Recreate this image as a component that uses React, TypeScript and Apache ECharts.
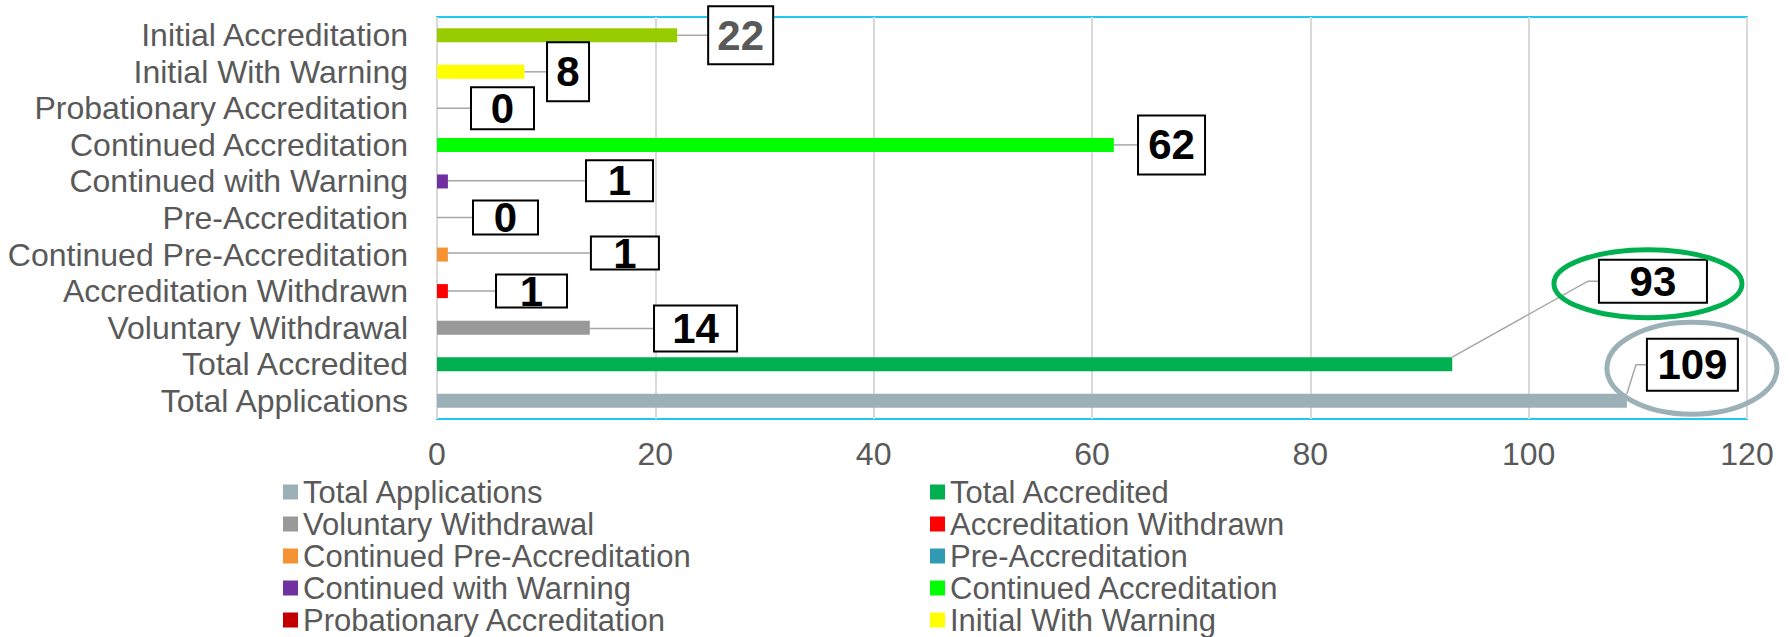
import React, { useEffect, useRef } from "react";
import * as echarts from "echarts";

// ---- data (bottom to top on the category axis) ----
const categories = [
  "Total Applications",
  "Total Accredited",
  "Voluntary Withdrawal",
  "Accreditation Withdrawn",
  "Continued Pre-Accreditation",
  "Pre-Accreditation",
  "Continued with Warning",
  "Continued Accreditation",
  "Probationary Accreditation",
  "Initial With Warning",
  "Initial Accreditation",
];
const values = [109, 93, 14, 1, 1, 0, 1, 62, 0, 8, 22];
const colors = [
  "#9CB0B8",
  "#00B050",
  "#999999",
  "#FF0000",
  "#F59333",
  "#319AB3",
  "#7030A0",
  "#00FF00",
  "#C00000",
  "#FFFF00",
  "#99CC00",
];
const xMin = 0;
const xMax = 120;
const xStep = 20;

// legend columns (row-major order of the original legend)
const legendLeft = [0, 2, 4, 6, 8].map((i) => categories[i]);
const legendRight = [1, 3, 5, 7, 9].map((i) => categories[i]);

// ---- layout of the moved data labels: [dx from bar end, dy, box width, box height] ----
const labelBoxes: number[][] = [
  [65.5, -36, 89, 50],
  [200.7, -83, 106, 41],
  [105.7, 0.9, 81, 44],
  [83.6, 0, 69, 31],
  [177, -1.5, 66, 31],
  [68.5, -0.6, 63, 32],
  [171.6, -0.7, 65, 39],
  [57.7, 0, 65, 57],
  [65.5, 0, 61, 40],
  [43.7, 0, 40, 57],
  [63.5, 0, 63, 56],
];
const labelColors = categories.map((_, i) => (i === 10 ? "#595959" : "#000000"));

// highlight ellipses around labels: [series index, dx from label centre, dy, rx, ry, colour]
const ellipses: [number, number, number, number, number, string][] = [
  [1, -5, 2.5, 94, 34, "#00B050"],
  [0, -0.5, 3.5, 85, 46, "#9CB0B8"],
];

const FONT = "'Liberation Sans', Arial, sans-serif";

export default function App() {
  const ref = useRef<HTMLDivElement>(null);
  useEffect(() => {
    if (!ref.current) return;
    const chart = echarts.init(ref.current, undefined, { renderer: "svg" });

    const series = categories.map((name, i) => {
      const [dx, dy, w, h] = labelBoxes[i];
      return {
        name,
        type: "bar",
        barWidth: 14,
        barGap: "-100%",
        itemStyle: { color: colors[i] },
        data: categories.map((_, j) => (j === i ? values[i] : null)),
        label: {
          show: true,
          position: "right",
          formatter: "{c}",
          fontFamily: FONT,
          fontSize: 42,
          fontWeight: "bold",
          color: labelColors[i],
          backgroundColor: "#ffffff",
          borderColor: "#000000",
          borderWidth: 2,
          width: w,
          height: h,
          lineHeight: h,
          align: "center",
          verticalAlign: "middle",
          padding: 0,
        },
        labelLine: {
          show: true,
          length2: 10,
          lineStyle: { color: "#A6A6A6", width: 1.5 },
        },
        labelLayout: (p: any) => {
          const r = p.rect;
          return {
            x: r.x + r.width + dx,
            y: r.y + r.height / 2 + dy,
            align: "center",
            verticalAlign: "middle",
          };
        },
      };
    });

    const legendCommon = {
      orient: "vertical",
      top: 476,
      padding: 0,
      itemGap: 0,
      itemWidth: 15,
      itemHeight: 15,
      icon: "rect",
      selectedMode: false,
      textStyle: { fontFamily: FONT, fontSize: 31, color: "#595959", lineHeight: 32 },
    };

    chart.setOption({
      animation: false,
      textStyle: { fontFamily: FONT },
      grid: {
        left: 437,
        right: 42,
        top: 17,
        bottom: 218,
        show: true,
        borderColor: "#1EC8F2",
        borderWidth: 2,
        containLabel: false,
      },
      xAxis: {
        type: "value",
        min: xMin,
        max: xMax,
        interval: xStep,
        axisLine: { show: false },
        axisTick: { show: false },
        splitLine: { lineStyle: { color: "#D9D9D9", width: 2 } },
        axisLabel: { fontFamily: FONT, fontSize: 32, color: "#595959", margin: 19 },
      },
      yAxis: {
        type: "category",
        data: categories,
        axisLine: { show: false },
        axisTick: { show: false },
        axisLabel: { fontFamily: FONT, fontSize: 32, color: "#595959", margin: 29, interval: 0 },
      },
      legend: [
        { ...legendCommon, left: 283, data: legendLeft },
        { ...legendCommon, left: 930, data: legendRight },
      ],
      series,
    });

    const graphics = ellipses.map(([si, ex, ey, rx, ry, col]) => {
      const p = chart.convertToPixel({ xAxisIndex: 0, yAxisIndex: 0 }, [values[si], categories[si]]) as number[];
      const [dx, dy] = labelBoxes[si];
      return {
        type: "ellipse",
        z: 100,
        shape: { cx: p[0] + dx + ex, cy: p[1] + dy + ey, rx, ry },
        style: { fill: "none", stroke: col, lineWidth: 5 },
      };
    });
    chart.setOption({ graphic: graphics });

    return () => chart.dispose();
  }, []);

  return (
    <div
      ref={ref}
      style={{ position: "fixed", left: 0, top: 0, width: 1789, height: 637, background: "#fff" }}
    />
  );
}
